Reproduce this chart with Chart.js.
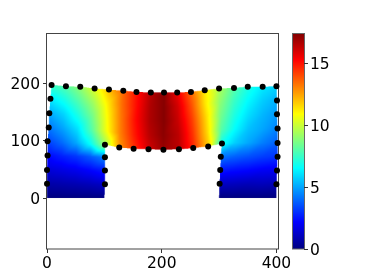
<!DOCTYPE html>
<html lang="en">
<head>
<meta charset="UTF-8" />
<title>Mesh field</title>
<script src="https://cdn.jsdelivr.net/npm/chart.js"></script>
<style>
  html, body { margin: 0; padding: 0; background: #fff; }
  canvas { display: block; }
</style>
</head>
<body>
<canvas id="chart" width="374" height="280"></canvas>
<script>
// tick labels
const xTicks = [0, 200, 400];
const yTicks = [0, 100, 200];
const barTicks = [0, 5, 10, 15];
const barMax = 17.42;

// mesh nodes, bottom row first, null where the arch opening is
const meshX = [
  [0, 25, 50, 75, 100, null, null, null, null, null, null, null, 300, 325, 350, 375, 400],
  [0, 25, 50, 75, 101, null, null, null, null, null, null, null, 301, 326, 350, 375, 400],
  [0, 25, 50, 76, 101, null, null, null, null, null, null, null, 302, 326, 351, 376, 401],
  [1, 26, 51, 76, 101, null, null, null, null, null, null, null, 303, 327, 352, 377, 402],
  [1, 26, 51, 76, 101, 126, 151, 177, 203, 230, 255, 281, 305, 328, 352, 377, 402],
  [3, 28, 53, 78, 102, 127, 152, 178, 203, 229, 254, 279, 304, 328, 351, 377, 402],
  [4, 29, 54, 79, 104, 129, 153, 179, 204, 228, 253, 278, 303, 327, 351, 376, 401],
  [6, 31, 56, 81, 106, 131, 155, 180, 204, 228, 252, 276, 301, 326, 350, 376, 401],
  [8, 33, 58, 83, 108, 133, 156, 181, 204, 227, 251, 275, 300, 326, 350, 376, 400]
];
const meshY = [
  [0, 0, 0, 0, 0, null, null, null, null, null, null, null, 0, 0, 0, 0, 0],
  [25, 25, 25, 24, 24, null, null, null, null, null, null, null, 25, 25, 25, 24, 24],
  [49, 49, 49, 48, 48, null, null, null, null, null, null, null, 49, 49, 48, 48, 48],
  [74, 73, 73, 72, 71, null, null, null, null, null, null, null, 72, 72, 72, 72, 72],
  [99, 97, 96, 94, 93, 88, 86, 85, 84, 85, 87, 90, 95, 96, 96, 96, 96],
  [123, 122, 120, 119, 117, 113, 111, 110, 109, 110, 112, 115, 119, 120, 120, 121, 121],
  [148, 146, 145, 143, 141, 138, 136, 135, 134, 135, 137, 140, 143, 144, 145, 145, 146],
  [173, 171, 170, 167, 165, 163, 160, 159, 159, 159, 161, 164, 167, 168, 169, 170, 170],
  [197, 195, 194, 191, 189, 187, 185, 184, 184, 184, 185, 188, 191, 192, 194, 194, 195]
];
// field value at each mesh node
const meshValues = [
  [0, 0, 0, 0, 0, null, null, null, null, null, null, null, 0, 0, 0, 0, 0],
  [0.7, 0.8, 0.9, 1.0, 1.2, null, null, null, null, null, null, null, 1.2, 1.1, 1.0, 1.0, 0.9],
  [1.5, 1.7, 1.9, 2.2, 2.6, null, null, null, null, null, null, null, 2.6, 2.4, 2.2, 2.0, 1.9],
  [2.3, 2.7, 3.1, 3.7, 4.4, null, null, null, null, null, null, null, 4.2, 3.8, 3.5, 3.2, 3.0],
  [3.3, 4.0, 5.0, 6.6, 9.2, 12.6, 14.4, 16.0, 17.0, 16.4, 14.6, 11.8, 6.8, 5.7, 5.0, 4.3, 3.8],
  [4.2, 5.0, 6.0, 8.0, 10.5, 13.0, 14.8, 16.4, 17.2, 16.4, 14.4, 11.6, 8.0, 6.5, 5.5, 5.0, 4.4],
  [5.1, 5.8, 7.0, 8.5, 10.8, 13.2, 15.0, 16.6, 17.3, 16.2, 14.2, 11.5, 8.5, 7.0, 6.0, 5.3, 4.8],
  [6.2, 6.9, 8.0, 9.3, 11.2, 13.4, 15.0, 16.6, 17.3, 16.0, 13.9, 11.3, 9.0, 7.5, 6.5, 5.7, 5.2],
  [7.5, 8.0, 9.0, 10.3, 12.0, 13.5, 15.0, 16.5, 17.3, 15.6, 13.5, 11.2, 9.5, 8.0, 7.0, 6.2, 5.8]
];
// boundary nodes that carry a black marker
const dotX = [8, 33, 58, 83, 108, 133, 156, 181, 204, 227, 251, 275, 300, 326, 350, 376, 400,
  401, 401, 402, 402, 402, 401, 400,
  6, 4, 3, 1, 1, 0, 0,
  101, 101, 101, 101, 126, 151, 177, 203, 230, 255, 281, 305, 303, 302, 301];
const dotY = [197, 195, 194, 191, 189, 187, 185, 184, 184, 184, 185, 188, 191, 192, 194, 194, 195,
  170, 146, 121, 96, 72, 48, 24,
  173, 148, 123, 99, 74, 49, 25,
  93, 71, 48, 24, 88, 86, 85, 84, 85, 87, 90, 95, 72, 49, 25];

// jet colormap, v runs 0..1
function jet(v) {
  const clip = c => Math.max(0, Math.min(1, c));
  return [
    clip(Math.min(4 * v - 1.5, -4 * v + 4.5)) * 255,
    clip(Math.min(4 * v - 0.5, -4 * v + 3.5)) * 255,
    clip(Math.min(4 * v + 0.5, -4 * v + 2.5)) * 255
  ];
}

// shade one triangle into the offscreen pixel buffer
function shadeTriangle(img, a, b, c) {
  const w = img.width, h = img.height;
  const det = (b.y - c.y) * (a.x - c.x) + (c.x - b.x) * (a.y - c.y);
  if (!det) return;
  const x0 = Math.max(0, Math.floor(Math.min(a.x, b.x, c.x)));
  const x1 = Math.min(w - 1, Math.ceil(Math.max(a.x, b.x, c.x)));
  const y0 = Math.max(0, Math.floor(Math.min(a.y, b.y, c.y)));
  const y1 = Math.min(h - 1, Math.ceil(Math.max(a.y, b.y, c.y)));
  for (let y = y0; y <= y1; y++) {
    for (let x = x0; x <= x1; x++) {
      const px = x + 0.5, py = y + 0.5;
      const l1 = ((b.y - c.y) * (px - c.x) + (c.x - b.x) * (py - c.y)) / det;
      const l2 = ((c.y - a.y) * (px - c.x) + (a.x - c.x) * (py - c.y)) / det;
      const l3 = 1 - l1 - l2;
      if (l1 < -1e-6 || l2 < -1e-6 || l3 < -1e-6) continue;
      const rgb = jet((l1 * a.v + l2 * b.v + l3 * c.v) / barMax);
      const i = (y * w + x) * 4;
      img.data[i] = rgb[0];
      img.data[i + 1] = rgb[1];
      img.data[i + 2] = rgb[2];
      img.data[i + 3] = 255;
    }
  }
}

const meshPlugin = {
  id: 'mesh',
  beforeDatasetsDraw(chart) {
    const { ctx, scales, chartArea } = chart;
    const ss = 3; // supersample so the mesh edges come out soft
    const w = chart.width * ss, h = chart.height * ss;
    const off = document.createElement('canvas');
    off.width = w;
    off.height = h;
    const offCtx = off.getContext('2d');
    const img = offCtx.createImageData(w, h);
    const node = (j, i) => ({
      x: scales.x.getPixelForValue(meshX[j][i]) * ss,
      y: scales.y.getPixelForValue(meshY[j][i]) * ss,
      v: meshValues[j][i]
    });
    for (let j = 0; j < meshX.length - 1; j++) {
      for (let i = 0; i < meshX[j].length - 1; i++) {
        if (meshX[j][i] === null || meshX[j][i + 1] === null ||
            meshX[j + 1][i] === null || meshX[j + 1][i + 1] === null) continue;
        const a = node(j, i), b = node(j, i + 1), c = node(j + 1, i + 1), d = node(j + 1, i);
        shadeTriangle(img, a, b, c);
        shadeTriangle(img, a, c, d);
      }
    }
    offCtx.putImageData(img, 0, 0);
    ctx.save();
    ctx.imageSmoothingEnabled = true;
    ctx.imageSmoothingQuality = 'high';
    ctx.drawImage(off, 0, 0, chart.width, chart.height);
    // axes box
    ctx.strokeStyle = '#444';
    ctx.lineWidth = 1;
    ctx.strokeRect(chartArea.left - 0.5, chartArea.top + 0.5,
      chartArea.right - chartArea.left, chartArea.bottom - chartArea.top - 0.5);
    ctx.restore();
  },
  afterDraw(chart) {
    // colour bar next to the axes, read through its own scale
    const { ctx } = chart;
    const bar = chart.scales.bar;
    const yAxis = chart.scales.y;
    const left = 293, right = 304;
    ctx.save();
    for (let y = Math.floor(bar.top); y < bar.bottom; y++) {
      const rgb = jet(bar.getValueForPixel(y + 0.5) / barMax);
      ctx.fillStyle = `rgb(${rgb[0]},${rgb[1]},${rgb[2]})`;
      ctx.fillRect(left, y, right - left, 1);
    }
    ctx.strokeStyle = '#666';
    ctx.lineWidth = 1;
    ctx.strokeRect(left - 0.5, bar.top + 0.5, right - left + 1, bar.bottom - bar.top - 0.5);
    ctx.strokeStyle = '#333';
    barTicks.forEach(t => {
      const y = Math.round(bar.getPixelForValue(t)) + 0.5;
      ctx.beginPath();
      ctx.moveTo(right, y);
      ctx.lineTo(right + 4, y);
      ctx.stroke();
    });
    // vertical axis labels: digits centred on the tick, which the scale's middle baseline misses
    ctx.fillStyle = '#000';
    ctx.font = '15.5px "DejaVu Sans"';
    ctx.textBaseline = 'alphabetic';
    ctx.textAlign = 'left';
    barTicks.forEach(t => ctx.fillText(String(t), 310, bar.getPixelForValue(t) + 5.5));
    ctx.textAlign = 'right';
    yTicks.forEach(t => ctx.fillText(String(t), 40, yAxis.getPixelForValue(t) + 5.5));
    ctx.restore();
  }
};

const tickFont = { family: '"DejaVu Sans"', size: 15.5 };

// no label overhang: the axes box has to land on fixed pixels
function noOverhang(s) {
  s.paddingTop = s.paddingBottom = s.paddingLeft = s.paddingRight = 0;
}

new Chart(document.getElementById('chart').getContext('2d'), {
  type: 'scatter',
  data: {
    datasets: [{
      data: dotX.map((x, i) => ({ x: x, y: dotY[i] })),
      backgroundColor: '#000',
      pointRadius: 3,
      pointBorderWidth: 0,
      pointHoverRadius: 3,
      clip: false
    }]
  },
  options: {
    responsive: false,
    animation: false,
    events: [],
    layout: { padding: { top: 33 } },
    plugins: { legend: { display: false }, tooltip: { enabled: false } },
    scales: {
      x: {
        type: 'linear',
        min: 0,
        max: 404.5,
        afterBuildTicks: s => { s.ticks = xTicks.map(v => ({ value: v })); },
        afterFit: s => { s.height = 31; noOverhang(s); },
        border: { display: false },
        grid: { drawOnChartArea: false, tickLength: 4, color: '#333' },
        ticks: { font: tickFont, color: '#000', padding: 2, maxRotation: 0, autoSkip: false }
      },
      y: {
        type: 'linear',
        min: -88.9,
        max: 287.7,
        afterBuildTicks: s => { s.ticks = yTicks.map(v => ({ value: v })); },
        afterFit: s => { s.width = 47; noOverhang(s); },
        border: { display: false },
        grid: { drawOnChartArea: false, tickLength: 4, color: '#333' },
        ticks: { display: false }
      },
      bar: {
        type: 'linear',
        position: 'right',
        min: 0,
        max: barMax,
        afterBuildTicks: s => { s.ticks = barTicks.map(v => ({ value: v })); },
        afterFit: s => { s.width = 95; noOverhang(s); },
        border: { display: false },
        grid: { display: false },
        ticks: { display: false }
      }
    }
  },
  plugins: [meshPlugin]
});
</script>
</body>
</html>
